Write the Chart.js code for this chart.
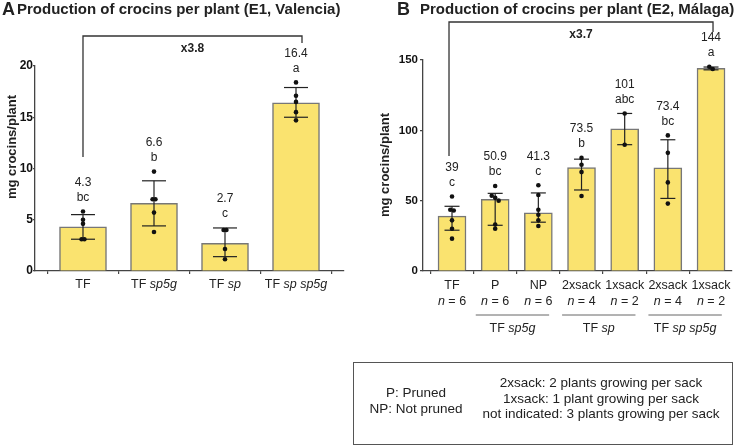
<!DOCTYPE html>
<html>
<head>
<meta charset="utf-8">
<script src="https://cdn.jsdelivr.net/npm/chart.js@4.4.0/dist/chart.umd.min.js"></script>
<style>
    html, body { margin: 0; padding: 0; background: #fff; }
    #wrap { position: relative; width: 741px; height: 446px; font-family: "Liberation Sans", Arial, sans-serif; color: #222; }
    #chartA { position: absolute; left: 0; top: 0; }
    #chartB { position: absolute; left: 370px; top: 0; }
    #legendBox { position: absolute; left: 353px; top: 362px; width: 380px; height: 83px; border: 1px solid #555; box-sizing: border-box; font-size: 13.5px; line-height: 15.5px; }
    #legendBox .col { position: absolute; text-align: center; white-space: nowrap; }
</style>
</head>
<body>
<div id="wrap">
    <canvas id="chartA" width="370" height="446"></canvas>
    <canvas id="chartB" width="371" height="446"></canvas>
    <div id="legendBox">
        <div class="col" style="left:0; width:124px; top:22px;">P: Pruned<br>NP: Not pruned</div>
        <div class="col" style="left:127px; width:240px; top:12px;">2xsack: 2 plants growing per sack<br>1xsack: 1 plant growing per sack<br>not indicated: 3 plants growing per sack</div>
    </div>
</div>
<script>
    var FONT = '"Liberation Sans", Arial, sans-serif';

    // Panel A - E1, Valencia
    var catsA = ['TF', 'TF sp5g', 'TF sp', 'TF sp sp5g'];
    var meansA = [4.3, 6.6, 2.7, 16.4];
    var errHighA = [5.5, 8.8, 4.2, 17.9];
    var errLowA = [3.1, 4.4, 1.4, 15.0];
    var pointsA = [
        [5.8, 5.0, 4.6, 3.1, 3.1],
        [9.7, 7.0, 7.0, 5.7, 3.8],
        [4.0, 4.0, 2.15, 1.15],
        [18.4, 17.1, 16.5, 15.5, 14.7]
    ];
    var lettersA = ['bc', 'b', 'c', 'a'];
    var yTicksA = [0, 5, 10, 15, 20];

    // Panel B - E2, Malaga
    var catsB = ['TF', 'P', 'NP', '2xsack', '1xsack', '2xsack', '1xsack'];
    var nB = [6, 6, 6, 4, 2, 4, 2];
    var meansB = [39, 50.9, 41.3, 73.5, 101, 73.4, 144];
    var errHighB = [46, 55.2, 55.5, 79.5, 112, 93.3, 145];
    var errLowB = [29, 32.5, 34.7, 57.6, 89.8, 51.6, 143];
    var pointsB = [
        [53, 43.5, 43, 36, 30, 23],
        [60.4, 53.5, 52, 50, 33, 30],
        [61, 54, 43.5, 40, 36, 32],
        [80.4, 75.5, 70.3, 53.3],
        [112, 89.8],
        [96.4, 84, 63, 47.9],
        [145.2, 143.6]
    ];
    var lettersB = ['c', 'bc', 'c', 'b', 'abc', 'bc', 'a'];
    var groupsB = [
        { label: 'TF sp5g', from: 1, to: 2 },
        { label: 'TF sp', from: 3, to: 4 },
        { label: 'TF sp sp5g', from: 5, to: 6 }
    ];
    var yTicksB = [0, 50, 100, 150];

    // spread out dots that sit on top of each other
    function dotData(groups, thr, step) {
        var out = [];
        groups.forEach(function (vals, i) {
            var cluster = [];
            function flush() {
                cluster.forEach(function (v, j) {
                    out.push({ x: i + (j - (cluster.length - 1) / 2) * step, y: v });
                });
                cluster = [];
            }
            vals.forEach(function (v) {
                if (cluster.length && Math.abs(cluster[cluster.length - 1] - v) >= thr) flush();
                cluster.push(v);
            });
            flush();
        });
        return out;
    }

    // "TF sp5g" -> TF upright, genotype italic
    function genoParts(label) {
        var k = label.indexOf(' ');
        return k < 0 ? [[label, false]] : [[label.slice(0, k + 1), false], [label.slice(k + 1), true]];
    }

    function drawRich(ctx, parts, cx, y, size) {
        var w = 0;
        parts.forEach(function (p) {
            ctx.font = (p[1] ? 'italic ' : '') + size + 'px ' + FONT;
            w += ctx.measureText(p[0]).width;
        });
        var x = cx - w / 2;
        ctx.textAlign = 'left';
        ctx.textBaseline = 'middle';
        parts.forEach(function (p) {
            ctx.font = (p[1] ? 'italic ' : '') + size + 'px ' + FONT;
            ctx.fillText(p[0], x, y);
            x += ctx.measureText(p[0]).width;
        });
    }

    function line(ctx, x1, y1, x2, y2) {
        ctx.beginPath();
        ctx.moveTo(x1, y1);
        ctx.lineTo(x2, y2);
        ctx.stroke();
    }

    function panelPlugin(p) {
        return {
            id: 'panel' + p.letter,
            afterDatasetDraw: function (chart, args) {
                if (args.meta.type !== 'bar') return;
                var ctx = chart.ctx, xs = chart.scales.x, ys = chart.scales.y;
                ctx.save();
                ctx.strokeStyle = '#222';
                ctx.lineWidth = 1.2;
                p.means.forEach(function (m, i) {
                    var cx = xs.getPixelForValue(i);
                    var hi = ys.getPixelForValue(p.errHigh[i]);
                    var lo = ys.getPixelForValue(p.errLow[i]);
                    line(ctx, cx, hi, cx, lo);
                    line(ctx, cx - p.whisker / 2, hi, cx + p.whisker / 2, hi);
                    line(ctx, cx - p.whisker / 2, lo, cx + p.whisker / 2, lo);
                });
                ctx.restore();
            },
            afterDraw: function (chart) {
                var ctx = chart.ctx, xs = chart.scales.x, ys = chart.scales.y;
                ctx.save();
                ctx.fillStyle = '#222';

                // titles
                ctx.textAlign = 'left';
                ctx.textBaseline = 'alphabetic';
                ctx.font = 'bold 18px ' + FONT;
                ctx.fillText(p.letter, p.letterX, 15);
                ctx.font = 'bold 15px ' + FONT;
                ctx.fillText(p.title, p.titleX, 14);

                // y axis title
                ctx.save();
                ctx.translate(p.yTitleX, p.yTitleY);
                ctx.rotate(-Math.PI / 2);
                ctx.textAlign = 'center';
                ctx.textBaseline = 'middle';
                ctx.font = 'bold 13px ' + FONT;
                ctx.fillText('mg crocins/plant', 0, 0);
                ctx.restore();

                // means and letters above each bar
                ctx.textAlign = 'center';
                ctx.textBaseline = 'middle';
                ctx.font = '12px ' + FONT;
                p.means.forEach(function (m, i) {
                    var top = Math.max(p.errHigh[i], Math.max.apply(null, p.points[i]));
                    var py = ys.getPixelForValue(top);
                    var cx = xs.getPixelForValue(i);
                    ctx.fillText(p.letters[i], cx, py - 14);
                    ctx.fillText(String(m), cx, py - 29);
                });

                // fold-change bracket
                ctx.strokeStyle = '#333';
                ctx.lineWidth = 1.3;
                var bl = xs.getPixelForValue(p.bracket.from) + p.bracket.dl;
                var br = xs.getPixelForValue(p.bracket.to) + p.bracket.dr;
                var by = p.bracket.y;
                ctx.beginPath();
                ctx.moveTo(bl, p.bracket.leftEnd);
                ctx.lineTo(bl, by);
                ctx.lineTo(br, by);
                ctx.lineTo(br, p.bracket.rightEnd);
                ctx.stroke();
                ctx.font = 'bold 12px ' + FONT;
                ctx.fillText(p.bracket.text, (bl + br) / 2, p.bracket.textY);

                p.drawXLabels(ctx, xs);
                ctx.restore();
            }
        };
    }

    function axisOpts(min, max, ticks, tickLen, extra) {
        var o = {
            type: 'linear',
            offset: false,
            min: min,
            max: max,
            afterBuildTicks: function (s) { s.ticks = ticks.map(function (v) { return { value: v }; }); },
            grid: { drawOnChartArea: false, drawTicks: true, tickLength: tickLen, color: '#444', lineWidth: 1.2 },
            border: { color: '#444', width: 1.3 }
        };
        return Object.assign(o, extra);
    }

    function makeChart(id, p) {
        var cats = p.means.map(function (m, i) { return i; });
        return new Chart(document.getElementById(id), {
            type: 'bar',
            data: {
                datasets: [
                    {
                        type: 'line',
                        data: dotData(p.points, p.dotThr, p.dotStep),
                        showLine: false,
                        pointRadius: 2.3,
                        pointBackgroundColor: '#111',
                        pointBorderWidth: 0,
                        order: 0
                    },
                    {
                        type: 'bar',
                        data: p.means.map(function (m, i) { return { x: i, y: m }; }),
                        backgroundColor: '#FAE36F',
                        borderColor: '#777',
                        borderWidth: 1.5,
                        barThickness: p.barWidth,
                        order: 1
                    }
                ]
            },
            options: {
                responsive: false,
                animation: false,
                devicePixelRatio: 1,
                layout: { padding: p.padding },
                plugins: { legend: { display: false }, tooltip: { enabled: false } },
                scales: {
                    x: axisOpts(p.xMin, p.xMax, cats, 3, {
                        afterFit: function (s) { s.height = 8; },
                        ticks: { display: false }
                    }),
                    y: axisOpts(0, p.yMax, p.yTicks, p.yTickLen, {
                        afterFit: function (s) { s.width = p.yAxisWidth; },
                        ticks: { font: { family: FONT, size: p.tickSize, weight: 'bold' }, color: '#111', padding: p.yTickPad }
                    })
                }
            },
            plugins: [panelPlugin(p)]
        });
    }

    makeChart('chartA', {
        letter: 'A', letterX: 2, title: 'Production of crocins per plant (E1, Valencia)', titleX: 17,
        means: meansA, errHigh: errHighA, errLow: errLowA, points: pointsA, letters: lettersA,
        yMax: 20, yTicks: yTicksA, tickSize: 12, yTickLen: 2, yTickPad: 0,
        xMin: -0.676, xMax: 3.676, barWidth: 47, whisker: 24,
        dotThr: 0.3, dotStep: 0.04,
        yAxisWidth: 35, padding: { top: 66, left: 0, right: 26, bottom: 167 },
        yTitleX: 12, yTitleY: 147,
        bracket: { from: 0, to: 3, dl: 0, dr: 6, y: 36, leftEnd: 157, rightEnd: 43, text: 'x3.8', textY: 49 },
        drawXLabels: function (ctx, xs) {
            ctx.fillStyle = '#222';
            catsA.forEach(function (c, i) {
                drawRich(ctx, genoParts(c), xs.getPixelForValue(i), 285, 12.5);
            });
        }
    });

    makeChart('chartB', {
        letter: 'B', letterX: 27, title: 'Production of crocins per plant (E2, Málaga)', titleX: 50,
        means: meansB, errHigh: errHighB, errLow: errLowB, points: pointsB, letters: lettersB,
        yMax: 150, yTicks: yTicksB, tickSize: 11.5, yTickLen: 3, yTickPad: 2,
        xMin: -0.672, xMax: 6.486, barWidth: 28, whisker: 15,
        dotThr: 2.25, dotStep: 0.08,
        yAxisWidth: 53, padding: { top: 60, left: 0, right: 9, bottom: 167 },
        yTitleX: 15.5, yTitleY: 165,
        bracket: { from: 0, to: 6, dl: -3, dr: 2, y: 22, leftEnd: 156, rightEnd: 32, text: 'x3.7', textY: 35 },
        drawXLabels: function (ctx, xs) {
            ctx.fillStyle = '#222';
            catsB.forEach(function (c, i) {
                var cx = xs.getPixelForValue(i);
                drawRich(ctx, [[c, false]], cx, 286, 12.5);
                drawRich(ctx, [['n', true], [' = ' + nB[i], false]], cx, 302, 12.5);
            });
            ctx.strokeStyle = '#666';
            ctx.lineWidth = 1;
            groupsB.forEach(function (g) {
                var x1 = xs.getPixelForValue(g.from - 0.45);
                var x2 = xs.getPixelForValue(g.to + 0.25);
                line(ctx, x1, 315, x2, 315);
                drawRich(ctx, genoParts(g.label), (x1 + x2) / 2, 329, 12.5);
            });
        }
    });
</script>
</body>
</html>
